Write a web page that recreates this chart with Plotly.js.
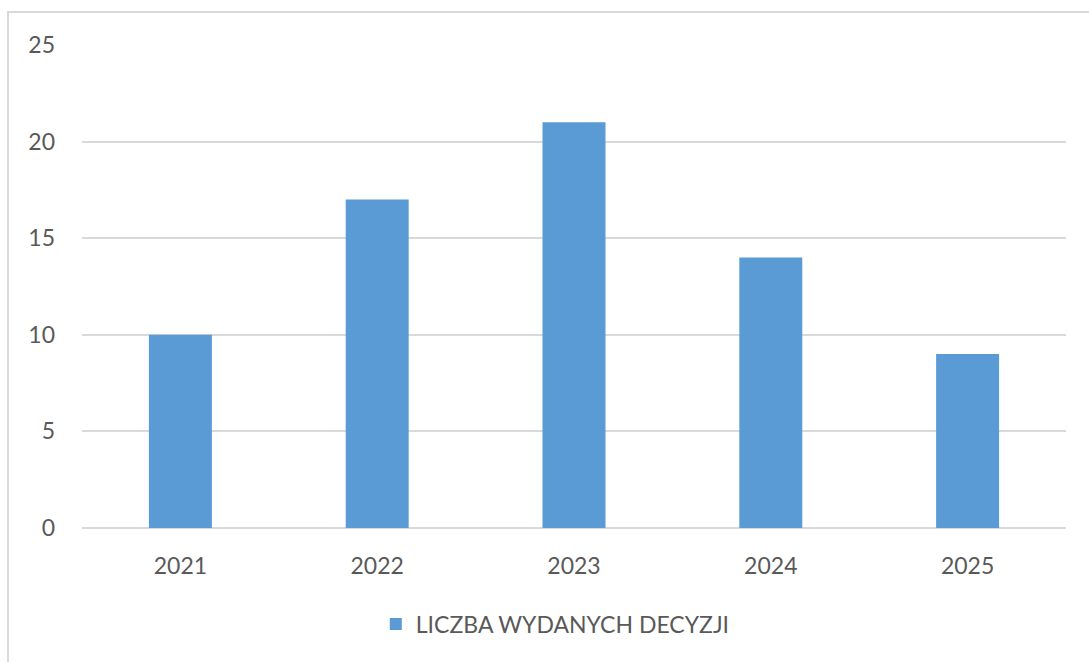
<!DOCTYPE html>
<html>
<head>
<meta charset="utf-8">
<script src="https://cdn.plot.ly/plotly-3.0.1.min.js"></script>
<style>
html,body{margin:0;padding:0;background:#fff;}
#chart{width:1089px;height:662px;position:relative;}
#frame{position:absolute;left:7px;top:11px;width:1200px;height:800px;border-left:2px solid #d9d9d9;border-top:2px solid #d9d9d9;pointer-events:none;}
</style>
</head>
<body>
<div id="chart"></div>
<div id="frame"></div>
<script>
const categories = ['2021', '2022', '2023', '2024', '2025'];
const values = [10, 17, 21, 14, 9];
const seriesName = 'LICZBA WYDANYCH DECYZJI';
const yTicks = [0, 5, 10, 15, 20, 25];

const font = {family: 'Lato, "Liberation Sans", sans-serif', size: 23, color: '#595959'};

Plotly.newPlot('chart', [{
  type: 'bar',
  x: categories,
  y: values,
  name: seriesName,
  marker: {color: '#5B9BD5'},
  showlegend: true
}], {
  width: 1089,
  height: 662,
  margin: {l: 82, r: 23, t: 45, b: 134},
  paper_bgcolor: '#ffffff',
  plot_bgcolor: '#ffffff',
  font: font,
  bargap: 0.68,
  xaxis: {
    type: 'category',
    tickfont: font,
    showgrid: false,
    showline: false,
    zeroline: false,
    ticks: '',
    ticklabelstandoff: 22
  },
  yaxis: {
    range: [0, 25],
    tickvals: yTicks,
    ticktext: yTicks.map(String),
    tickfont: font,
    showgrid: true,
    gridcolor: '#d9d9d9',
    gridwidth: 2,
    zeroline: true,
    zerolinecolor: '#d9d9d9',
    zerolinewidth: 2,
    showline: false,
    ticks: '',
    ticklabelstandoff: 26
  },
  legend: {
    orientation: 'h',
    x: 0.481,
    xanchor: 'center',
    y: -0.199,
    yanchor: 'middle',
    font: font,
    itemwidth: 30
  }
}, {displayModeBar: false, staticPlot: true});
</script>
</body>
</html>
